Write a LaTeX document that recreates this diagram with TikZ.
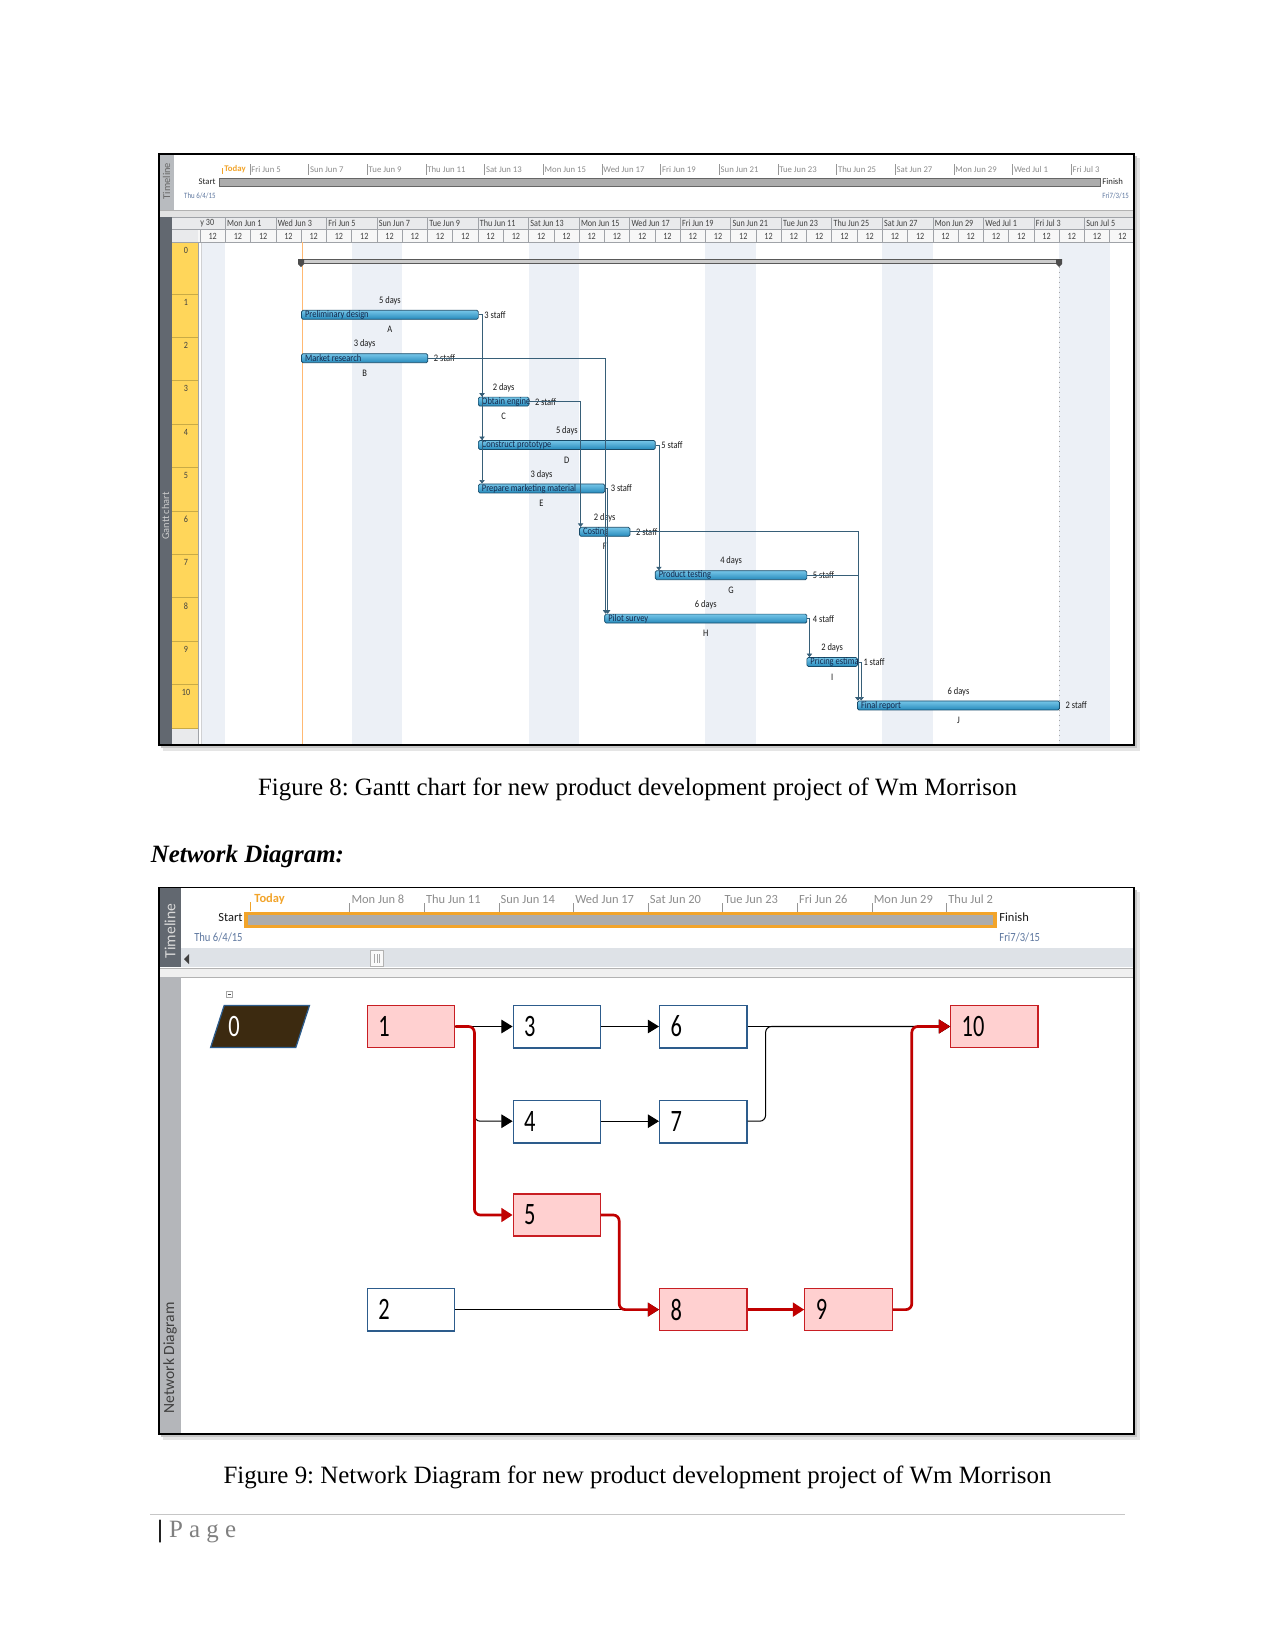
\documentclass[tikz,border=0pt]{standalone}
\usepackage{fontspec}
\setmainfont{Liberation Serif}
\newfontfamily\msfont[FakeStretch=0.85]{Carlito}
\newfontfamily\uifont{Carlito}
\newfontfamily\netfont[FakeStretch=0.72]{Carlito}
\usetikzlibrary{positioning,arrows.meta}
\frenchspacing

\definecolor{barfill}{RGB}{38,138,188}
\definecolor{barhigh}{RGB}{118,198,232}
\definecolor{barline}{RGB}{24,75,105}
\definecolor{barink}{RGB}{20,40,75}
\definecolor{deplink}{RGB}{55,95,120}
\definecolor{rowyellow}{RGB}{255,214,90}
\definecolor{rowline}{RGB}{200,170,70}
\definecolor{weekend}{RGB}{236,240,246}
\definecolor{hdrfill}{RGB}{233,234,236}
\definecolor{hdrline}{RGB}{160,163,168}
\definecolor{darkstrip}{RGB}{98,104,112}
\definecolor{lightstrip}{RGB}{184,187,191}
\definecolor{netstrip}{RGB}{180,182,186}
\definecolor{scrollband}{RGB}{222,226,231}
\definecolor{todayorange}{RGB}{242,164,42}
\definecolor{tickgray}{RGB}{150,150,150}
\definecolor{datelink}{RGB}{95,120,160}
\definecolor{critred}{RGB}{192,0,0}
\definecolor{critpink}{RGB}{255,208,208}
\definecolor{critedge}{RGB}{200,30,35}
\definecolor{boxblue}{RGB}{45,92,140}
\definecolor{rootbrown}{RGB}{60,42,16}

% one Gantt task: row, first day, day after last, name, days, staff, id
\newcommand{\taskbar}[7]{%
  \pgfmathsetmacro{\xa}{225.3+(#2-1)*25.27}%
  \pgfmathsetmacro{\bw}{(#3-#2)*25.27*0.16933}%
  \pgfmathsetmacro{\yy}{314.8+(#1-1)*43.4}%
  \node[taskbar, minimum width=\bw mm, anchor=west] (bar#7) at (\xa,\yy) {};
  \begin{scope}
    \clip (bar#7.south west) rectangle (bar#7.north east);
    \node[bartext, anchor=west] (bar#7-name) at (bar#7.west) {#4};
  \end{scope}
  \node[gtext, above=0.75mm of bar#7] (bar#7-days) {#5 days};
  \node[gtext, right=0.9mm of bar#7] (bar#7-staff) {#6 staff};
  \node[gtext, below=1.1mm of bar#7] (bar#7-id) {#7};
}

\begin{document}
\begin{tikzpicture}[x=0.16933mm, y=-0.16933mm,
    gtext/.style={font=\msfont\fontsize{4.8}{5}\selectfont, inner sep=0pt, text=black!90},
    bartext/.style={font=\msfont\fontsize{4.8}{5}\selectfont, inner xsep=0.6mm, inner ysep=0pt, text=barink},
    htext/.style={font=\msfont\fontsize{4.6}{5}\selectfont, inner sep=0pt, text=black!75},
    tltext/.style={font=\uifont\fontsize{4.2}{5}\selectfont, inner sep=0pt, text=black!45},
    tldate/.style={font=\msfont\fontsize{3.9}{5}\selectfont, inner sep=0pt, text=datelink},
    nettl/.style={font=\uifont\fontsize{6}{7}\selectfont, inner sep=0pt, text=black!45},
    netdate/.style={font=\msfont\fontsize{6}{7}\selectfont, inner sep=0pt, text=datelink},
    taskbar/.style={draw=barline, line width=0.35pt, top color=barhigh, bottom color=barfill, rounded corners=0.25mm, minimum height=1.52mm, inner sep=0pt},
    deplink/.style={draw=deplink, line width=0.35pt, -{Triangle[length=0.6mm,width=0.9mm]}},
    tickline/.style={draw=tickgray, line width=0.3pt},
    netbox/.style={font=\netfont\fontsize{15}{16}\selectfont, text width=11.07mm, align=left, inner xsep=1.86mm, inner ysep=0pt, minimum height=7.11mm, line width=0.6pt},
    critbox/.style={netbox, draw=critedge, fill=critpink},
    plainbox/.style={netbox, draw=boxblue, fill=white},
    netarrow/.style={draw=black, line width=0.5pt, -{Triangle[length=1.9mm,width=2.3mm]}},
    critarrow/.style={draw=critred, line width=1.3pt, -{Triangle[length=1.9mm,width=2.3mm]}, rounded corners=1mm},
    figcap/.style={font=\fontsize{12}{14}\selectfont, inner sep=0pt}]

\fill[white] (0,0) rectangle (1275,1651);
\useasboundingbox (0,0) rectangle (1275,1651);

%% Gantt chart
\fill[black!10] (163,158) rectangle (1140,751);
\fill[black!22] (161,156) rectangle (1137,748);
\begin{scope}
  \clip (159,154) rectangle (1134,745);
  \fill[white] (159,154) rectangle (1134,745);

  % timeline panel
  \fill[lightstrip] (159,154) rectangle (174,210);
  \node[rotate=90, font=\uifont\fontsize{5}{6}\selectfont, text=black!60, inner sep=0pt] (tl-name) at (166.5,181) {Timeline};
  \draw[todayorange, line width=0.3pt] (222,168) -- (222,174);
  \node[tltext, text=todayorange, anchor=west] (tl-today) at (224,169.5) {\bfseries Today};
  \foreach \lab [count=\i from 0] in {Fri Jun 5,Sun Jun 7,Tue Jun 9,Thu Jun 11,Sat Jun 13,Mon Jun 15,Wed Jun 17,Fri Jun 19,Sun Jun 21,Tue Jun 23,Thu Jun 25,Sat Jun 27,Mon Jun 29,Wed Jul 1,Fri Jul 3}{
    \pgfmathsetmacro{\tx}{250+\i*58.66}
    \draw[tickline] (\tx,164) -- (\tx,175);
    \node[tltext, anchor=west] (tl-\i) at (\tx+1,169.5) {\lab};
  }
  \draw[fill=gray!65, draw=gray!80!black, line width=0.3pt] (219,178) rectangle (1100.6,186.4);
  \node[tltext, text=black!85, anchor=east] (tl-start) at (216,182) {Start};
  \node[tldate, anchor=east] (tl-sdate) at (216,196) {Thu 6/4/15};
  \node[tltext, text=black!85, anchor=west] (tl-finish) at (1102,182) {Finish};
  \node[tldate, anchor=west] (tl-fdate) at (1102,196) {Fri7/3/15};
  \fill[gray!22] (159,210) rectangle (1134,217);
  \draw[gray!60, line width=0.3pt] (159,210) -- (1134,210);

  % side strip and row numbers
  \fill[darkstrip] (159,217) rectangle (172,745);
  \node[rotate=90, font=\uifont\fontsize{5}{6}\selectfont, text=white!80!black, inner sep=0pt] (gc-name) at (165.5,516) {Gantt chart};
  \fill[hdrfill] (172,217) rectangle (198,242);
  \fill[rowyellow] (172,242) rectangle (198,729);
  \fill[hdrfill] (172,729) rectangle (198,745);
  \foreach \k in {0,...,10}
    \draw[rowline, line width=0.3pt] (172,{294+\k*43.4}) -- (198,{294+\k*43.4});
  \draw[hdrline, line width=0.3pt] (198,217) -- (198,745);
  \node[htext] (r0) at (186,250.6) {0};
  \foreach \k in {1,...,10}
    \node[htext] (r\k) at (186,{302+(\k-1)*43.4}) {\k};

  % weekends
  \begin{scope}
    \clip (201,242) rectangle (1134,745);
    \foreach \d in {-1,6,13,20,27,34}
      \fill[weekend] ({225.3+(\d-1)*25.27},242) rectangle ({225.3+(\d+1)*25.27},745);
  \end{scope}
  \draw[hdrline!50, line width=0.3pt] (201,242) -- (201,745);

  % timescale
  \fill[hdrfill] (198,217) rectangle (1134,229.5);
  \fill[gray!6] (198,229.5) rectangle (1134,242);
  \draw[hdrline, line width=0.3pt] (172,217) -- (1134,217) (172,229.5) -- (1134,229.5) (172,242) -- (1134,242);
  \node[htext, anchor=west] (h1-first) at (200,223.5) {y 30};
  \foreach \lab [count=\i from 0] in {Mon Jun 1,Wed Jun 3,Fri Jun 5,Sun Jun 7,Tue Jun 9,Thu Jun 11,Sat Jun 13,Mon Jun 15,Wed Jun 17,Fri Jun 19,Sun Jun 21,Tue Jun 23,Thu Jun 25,Sat Jun 27,Mon Jun 29,Wed Jul 1,Fri Jul 3,Sun Jul 5}{
    \pgfmathsetmacro{\hx}{225.3+\i*50.54}
    \draw[hdrline, line width=0.3pt] (\hx,217) -- (\hx,229.5);
    \node[htext, anchor=west] (h1-\i) at (\hx+1.5,223.5) {\lab};
  }
  \foreach \d in {0,...,36}{
    \pgfmathsetmacro{\hx}{225.3+(\d-1)*25.27}
    \draw[hdrline, line width=0.3pt] (\hx,229.5) -- (\hx,242);
    \node[htext] (h2-\d) at (\hx+12.6,236) {12};
  }

  % project start and finish
  \draw[orange!55, line width=0.3pt] (302.7,242) -- (302.7,745);
  \draw[gray!70, dotted, line width=0.4pt] (1059.5,262) -- (1059.5,745);
  \node[fill=gray!40, draw=gray!70!black, line width=0.3pt, minimum width=128.37mm, minimum height=0.7mm, inner sep=0pt, anchor=west] (summary) at (301.1,261) {};
  \fill[gray!60!black] (298,259) -- (304,259) -- (304,264) -- (301,267) -- (298,264) -- cycle;
  \fill[gray!60!black] (1056,259) -- (1062,259) -- (1062,264) -- (1059,267) -- (1056,264) -- cycle;

  % tasks
  \taskbar{1}{4}{11}{Preliminary design}{5}{3}{A}
  \taskbar{2}{4}{9}{Market research}{3}{2}{B}
  \taskbar{3}{11}{13}{Obtain engine}{2}{2}{C}
  \taskbar{4}{11}{18}{Construct prototype}{5}{5}{D}
  \taskbar{5}{11}{16}{Prepare marketing material}{3}{3}{E}
  \taskbar{6}{15}{17}{Costing}{2}{2}{F}
  \taskbar{7}{18}{24}{Product testing}{4}{5}{G}
  \taskbar{8}{16}{24}{Pilot survey}{6}{4}{H}
  \taskbar{9}{24}{26}{Pricing estima}{2}{1}{I}
  \taskbar{10}{26}{34}{Final report}{6}{2}{J}

  % links
  \draw[deplink] (barA.east) -| ([xshift=0.68mm]barC.north west);
  \draw[deplink] (barA.east) -| ([xshift=0.68mm]barD.north west);
  \draw[deplink] (barA.east) -| ([xshift=0.68mm]barE.north west);
  \draw[deplink] (barB.east) -| ([xshift=0.2mm]barH.north west);
  \draw[deplink] (barE.east) -| ([xshift=0.55mm]barH.north west);
  \draw[deplink] (barC.east) -| ([xshift=0.25mm]barF.north west);
  \draw[deplink] (barD.east) -| ([xshift=0.68mm]barG.north west);
  \draw[deplink] (barF.east) -| ([xshift=0.15mm]barJ.north west);
  \draw[deplink] (barG.east) -| ([xshift=0.15mm]barJ.north west);
  \draw[deplink] (barH.east) -| ([xshift=0.5mm]barI.north west);
  \draw[deplink] (barI.east) -| ([xshift=0.7mm]barJ.north west);
\end{scope}
\draw[line width=0.8pt] (159,154) rectangle (1134,745);

\node[figcap] (cap8) at (637.5,789) {Figure 8: Gantt chart for new product development project of Wm Morrison};
\node[figcap, font=\bfseries\itshape\fontsize{12}{14}\selectfont, anchor=west] (nethead) at (150.5,856) {Network Diagram:};

%% Network diagram
\fill[black!10] (163,891.5) rectangle (1140,1440);
\fill[black!22] (161,889.5) rectangle (1137,1437);
\begin{scope}
  \clip (159,887.5) rectangle (1134,1434);
  \fill[white] (159,887.5) rectangle (1134,1434);
  \fill[darkstrip] (159,887.5) rectangle (181,966.5);
  \node[rotate=90, font=\uifont\fontsize{7.5}{8}\selectfont, text=white!85!black, inner sep=0pt] (nt-name) at (170,931) {Timeline};
  \draw[todayorange, line width=0.4pt] (250,902) -- (250,911);
  \node[nettl, text=todayorange, anchor=west] (nt-today) at (254,899) {\bfseries Today};
  \foreach \lab [count=\i from 0] in {Mon Jun 8,Thu Jun 11,Sun Jun 14,Wed Jun 17,Sat Jun 20,Tue Jun 23,Fri Jun 26,Mon Jun 29,Thu Jul 2}{
    \pgfmathsetmacro{\tx}{349.6+\i*74.61}
    \draw[tickline] (\tx,903) -- (\tx,912);
    \node[nettl, anchor=west] (nt-\i) at (\tx+1.5,899) {\lab};
  }
  \draw[fill=gray!65, draw=todayorange, line width=1.5pt] (246,913.5) rectangle (995,926.5);
  \node[nettl, text=black!90, anchor=east] (nt-start) at (243,917) {Start};
  \node[netdate, anchor=east] (nt-sdate) at (243,937) {Thu 6/4/15};
  \node[nettl, text=black!90, anchor=west] (nt-finish) at (999,917) {Finish};
  \node[netdate, anchor=west] (nt-fdate) at (999,937) {Fri7/3/15};

  % scroll bar
  \fill[scrollband] (181,947.5) rectangle (1134,966.5);
  \fill[black!75] (184,959) -- (189,954) -- (189,964) -- cycle;
  \draw[fill=gray!5, draw=gray!60, line width=0.3pt] (370.6,950.6) rectangle (383.2,966.5);
  \foreach \t in {374.5,376.9,379.3}
    \draw[gray!70, line width=0.3pt] (\t,954) -- (\t,963);
  \fill[gray!12] (159,968) rectangle (1134,977);
  \draw[gray!60, line width=0.3pt] (159,968) -- (1134,968) (159,977) -- (1134,977);

  % side strip
  \fill[netstrip] (159,977) rectangle (181,1434);
  \node[rotate=90, font=\uifont\fontsize{7.5}{8}\selectfont, text=black!75, inner sep=0pt] (nd-name) at (170,1358) {Network Diagram};

  % nodes
  \draw[gray!70, line width=0.3pt] (226.5,990.8) rectangle (232.5,996.8);
  \draw[black!70, line width=0.3pt] (227.7,993.8) -- (231.3,993.8);
  \filldraw[fill=rootbrown, draw=boxblue, line width=0.6pt] (224.2,1005.4) -- (309.5,1005.4) -- (295.8,1047.5) -- (210.6,1047.5) -- cycle;
  \coordinate (n0) at (260,1026.5);
  \node[font=\netfont\fontsize{15}{16}\selectfont, text=white, anchor=west, inner sep=0pt] (n0-lbl) at (228,1026.5) {0};

  \node[critbox] (n1) at (411.1,1026.5) {1};
  \node[plainbox] (n3) at (556.9,1026.5) {3};
  \node[plainbox] (n6) at (703.3,1026.5) {6};
  \node[critbox] (n10) at (994.4,1026.5) {10};
  \node[plainbox] (n4) at (556.9,1121.2) {4};
  \node[plainbox] (n7) at (703.3,1121.2) {7};
  \node[critbox] (n5) at (556.9,1215) {5};
  \node[plainbox] (n2) at (411.1,1309.6) {2};
  \node[critbox] (n8) at (703.3,1309.6) {8};
  \node[critbox] (n9) at (848.5,1309.6) {9};
  \foreach \n in {n2,n3,n4,n6,n7}
    \draw[boxblue, line width=1.1pt] (\n.south west) -- (\n.south east);

  % links
  \draw[netarrow] (n1.east) -- (n3.west);
  \draw[netarrow, rounded corners=1mm] (n1.east) -- ++(19,0) |- (n4.west);
  \draw[netarrow] (n3.east) -- (n6.west);
  \draw[netarrow] (n4.east) -- (n7.west);
  \draw[netarrow] (n6.east) -- (n10.west);
  \draw[netarrow, rounded corners=1mm] (n7.east) -- ++(18,0) |- (n10.west);
  \draw[netarrow] (n2.east) -- (n8.west);
  % critical path
  \draw[critarrow] (n1.east) -- ++(19,0) |- (n5.west);
  \draw[critarrow] (n5.east) -- ++(18,0) |- (n8.west);
  \draw[critarrow] (n8.east) -- (n9.west);
  \draw[critarrow] (n9.east) -- ++(19,0) |- (n10.west);
\end{scope}
\draw[line width=0.8pt] (159,887.5) rectangle (1134,1434);

\node[figcap] (cap9) at (637.5,1477) {Figure 9: Network Diagram for new product development project of Wm Morrison};

%% footer
\draw[gray!45, line width=0.4pt] (150,1514) -- (1125,1514);
\node[figcap, anchor=west] (pagemark) at (157,1532) {\textbf{|}\hspace{3pt}\textcolor{gray}{P a g e}};
\end{tikzpicture}
\end{document}
